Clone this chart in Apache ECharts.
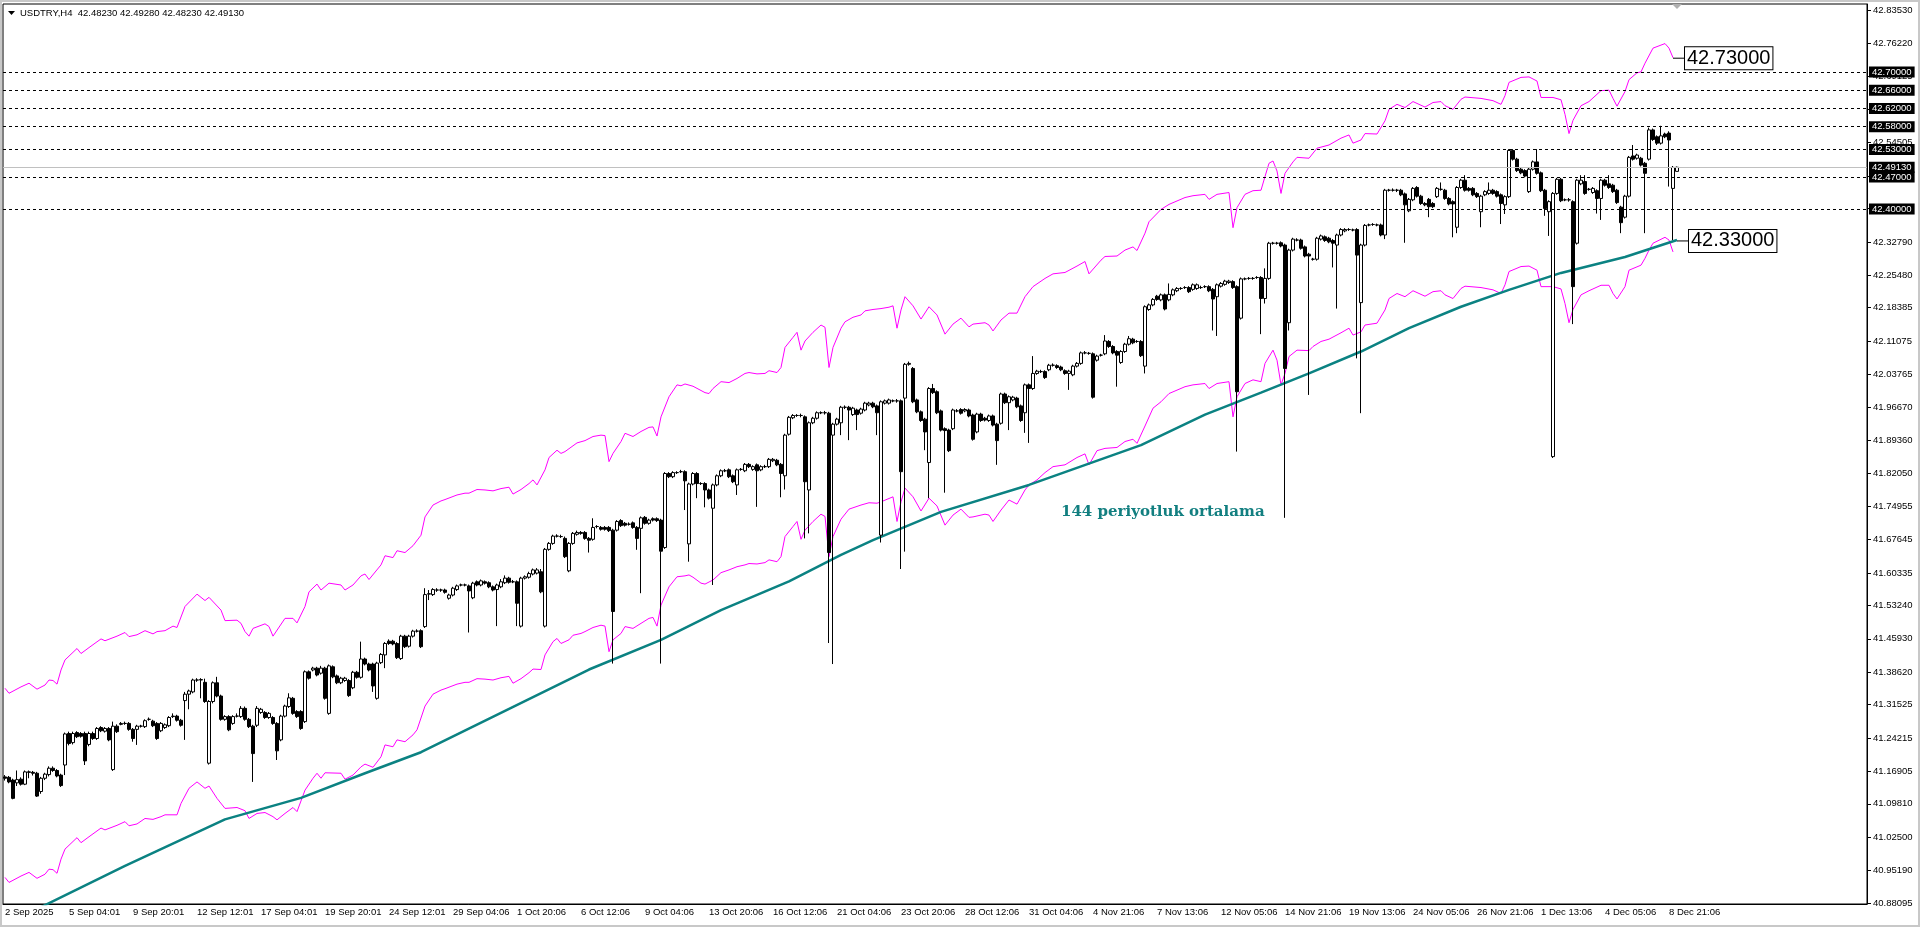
<!DOCTYPE html>
<html>
<head>
<meta charset="utf-8">
<title>USDTRY H4</title>
<script src="https://cdn.jsdelivr.net/npm/echarts@6/dist/echarts.min.js"></script>
<style>
  html, body { margin: 0; padding: 0; background: #fff; }
  #chart { width: 1920px; height: 927px; }
</style>
</head>
<body>
<div id="chart"></div>
<script>
// USDTRY H4 bars: [open, close, low, high]
const ohlcA = [
  [41.157,41.154,41.149,41.161],[41.156,41.146,41.143,41.159],[41.150,41.110,41.108,41.153],[41.144,41.151,41.137,41.171],
  [41.152,41.141,41.138,41.156],[41.141,41.168,41.139,41.171],[41.168,41.167,41.154,41.171],[41.167,41.165,41.160,41.170],
  [41.165,41.115,41.113,41.168],[41.125,41.154,41.120,41.157],[41.154,41.163,41.150,41.166],[41.162,41.176,41.158,41.180],
  [41.176,41.171,41.168,41.180],[41.171,41.159,41.156,41.174],[41.161,41.138,41.135,41.164],[41.183,41.251,41.161,41.254],
  [41.252,41.230,41.226,41.256],[41.232,41.252,41.228,41.256],[41.254,41.245,41.242,41.257],[41.252,41.246,41.243,41.255],
  [41.252,41.192,41.183,41.256],[41.228,41.252,41.224,41.256],[41.252,41.241,41.238,41.256],[41.241,41.263,41.238,41.266],
  [41.265,41.258,41.255,41.268],[41.257,41.263,41.254,41.266],[41.263,41.238,41.235,41.266],[41.173,41.268,41.170,41.278],
  [41.268,41.256,41.253,41.272],[41.272,41.274,41.270,41.277],[41.274,41.274,41.271,41.278],[41.274,41.261,41.258,41.277],
  [41.261,41.241,41.234,41.264],[41.261,41.268,41.227,41.271],[41.268,41.268,41.265,41.271],[41.267,41.280,41.264,41.283],
  [41.283,41.283,41.280,41.287],[41.279,41.269,41.266,41.282],[41.274,41.241,41.238,41.277],[41.258,41.274,41.255,41.277],
  [41.265,41.271,41.262,41.274],[41.269,41.287,41.266,41.290],[41.289,41.290,41.286,41.296],[41.290,41.281,41.278,41.293],
  [41.281,41.270,41.267,41.284],[41.324,41.338,41.238,41.343],[41.338,41.345,41.305,41.348],[41.343,41.369,41.340,41.372],
  [41.369,41.369,41.365,41.373],[41.369,41.370,41.329,41.373],[41.364,41.322,41.319,41.372],[41.187,41.322,41.184,41.325],
  [41.322,41.363,41.318,41.366],[41.363,41.334,41.331,41.376],[41.334,41.283,41.280,41.337],[41.283,41.289,41.280,41.292],
  [41.289,41.260,41.257,41.292],[41.274,41.289,41.271,41.292],[41.290,41.290,41.287,41.296],[41.289,41.307,41.286,41.312],
  [41.307,41.283,41.280,41.311],[41.283,41.267,41.264,41.286],[41.268,41.208,41.146,41.271],[41.270,41.307,41.266,41.312],
  [41.298,41.305,41.295,41.308],[41.298,41.287,41.284,41.301],[41.287,41.296,41.284,41.299],[41.287,41.274,41.271,41.290],
  [41.274,41.214,41.194,41.277],[41.238,41.290,41.235,41.293],[41.290,41.312,41.287,41.315],[41.311,41.330,41.308,41.340],
  [41.329,41.296,41.293,41.332],[41.300,41.289,41.286,41.303],[41.300,41.263,41.260,41.303],[41.278,41.387,41.275,41.390],
  [41.387,41.373,41.370,41.390],[41.391,41.395,41.388,41.398],[41.395,41.380,41.377,41.398],[41.384,41.395,41.381,41.400],
  [41.395,41.329,41.326,41.398],[41.296,41.400,41.293,41.403],[41.398,41.376,41.373,41.401],[41.378,41.363,41.360,41.381],
  [41.363,41.373,41.360,41.376],[41.368,41.373,41.365,41.376],[41.368,41.335,41.332,41.371],[41.352,41.386,41.349,41.389],
  [41.386,41.375,41.372,41.389],[41.375,41.415,41.372,41.453],[41.415,41.404,41.401,41.418],[41.404,41.391,41.388,41.407],
  [41.404,41.356,41.343,41.407],[41.329,41.406,41.326,41.409],[41.407,41.425,41.404,41.428],[41.424,41.449,41.395,41.452],
  [41.454,41.449,41.446,41.458],[41.454,41.448,41.445,41.457],[41.449,41.418,41.415,41.452],[41.416,41.465,41.413,41.468],
  [41.465,41.442,41.439,41.468],[41.443,41.465,41.440,41.468],[41.465,41.476,41.462,41.479],[41.476,41.476,41.473,41.480]
];
const ohlcB = [
  [41.477,41.442,41.439,41.480],[41.486,41.556,41.483,41.570],[41.557,41.558,41.544,41.566],[41.556,41.567,41.553,41.570],
  [41.566,41.566,41.562,41.570],[41.566,41.566,41.562,41.569],[41.566,41.561,41.558,41.569],[41.548,41.555,41.545,41.558],
  [41.555,41.570,41.552,41.573],[41.567,41.575,41.564,41.578],[41.577,41.577,41.574,41.580],[41.577,41.577,41.574,41.580],
  [41.575,41.564,41.473,41.578],[41.549,41.581,41.546,41.584],[41.584,41.577,41.574,41.587],[41.577,41.586,41.574,41.589],
  [41.584,41.581,41.578,41.587],[41.582,41.573,41.570,41.585],[41.573,41.566,41.563,41.576],[41.567,41.577,41.487,41.580],
  [41.573,41.584,41.570,41.590],[41.582,41.592,41.579,41.598],[41.592,41.583,41.580,41.595],[41.584,41.584,41.581,41.588],
  [41.584,41.537,41.487,41.587],[41.487,41.592,41.484,41.595],[41.592,41.595,41.589,41.598],[41.594,41.602,41.591,41.606],
  [41.601,41.610,41.598,41.613],[41.603,41.610,41.600,41.614],[41.606,41.562,41.559,41.612],[41.487,41.655,41.484,41.658],
  [41.655,41.668,41.652,41.671],[41.668,41.684,41.665,41.687],[41.684,41.684,41.681,41.688],[41.683,41.683,41.680,41.687],
  [41.679,41.639,41.636,41.683],[41.608,41.668,41.605,41.671],[41.668,41.690,41.665,41.693],[41.688,41.692,41.685,41.696],
  [41.692,41.690,41.687,41.695],[41.692,41.679,41.676,41.695],[41.679,41.675,41.648,41.682],[41.677,41.703,41.674,41.723],
  [41.705,41.705,41.701,41.708],[41.703,41.699,41.696,41.706],[41.703,41.699,41.696,41.706],[41.703,41.696,41.693,41.706],
  [41.697,41.519,41.405,41.700],[41.697,41.716,41.694,41.719],[41.718,41.707,41.704,41.721],[41.712,41.708,41.705,41.715],
  [41.710,41.710,41.707,41.714],[41.713,41.703,41.700,41.716],[41.703,41.679,41.654,41.706],[41.701,41.724,41.559,41.727],
  [41.725,41.712,41.709,41.728],[41.712,41.719,41.709,41.722],[41.722,41.719,41.716,41.725],[41.722,41.718,41.715,41.725],
  [41.719,41.651,41.405,41.722],[41.659,41.821,41.656,41.824],[41.821,41.814,41.811,41.824],[41.814,41.823,41.811,41.826],
  [41.823,41.823,41.820,41.826],[41.825,41.825,41.822,41.829],[41.825,41.805,41.741,41.828],[41.667,41.798,41.628,41.801],
  [41.798,41.821,41.795,41.824],[41.821,41.799,41.767,41.824],[41.799,41.799,41.796,41.802],[41.799,41.785,41.747,41.802],
  [41.785,41.767,41.764,41.788],[41.745,41.796,41.577,41.799],[41.796,41.816,41.793,41.819],[41.816,41.827,41.813,41.830],
  [41.827,41.827,41.824,41.831],[41.829,41.814,41.811,41.832],[41.816,41.803,41.800,41.819],[41.796,41.829,41.774,41.832],
  [41.830,41.830,41.827,41.833],[41.827,41.841,41.824,41.844],[41.841,41.836,41.833,41.844],[41.830,41.836,41.827,41.839],
  [41.840,41.827,41.748,41.843],[41.829,41.836,41.826,41.839],[41.836,41.836,41.833,41.840],[41.836,41.852,41.833,41.855],
  [41.849,41.852,41.846,41.855],[41.850,41.840,41.837,41.853],[41.841,41.821,41.769,41.844],[41.816,41.905,41.786,41.908],
  [41.907,41.944,41.904,41.947],[41.943,41.948,41.940,41.951],[41.948,41.948,41.945,41.951],[41.948,41.948,41.944,41.952],
  [41.945,41.803,41.679,41.948],[41.785,41.932,41.690,41.935],[41.932,41.942,41.929,41.945],[41.942,41.954,41.939,41.957],
  [41.954,41.954,41.951,41.957],[41.954,41.954,41.950,41.958],[41.953,41.648,41.450,41.956],[41.905,41.929,41.404,41.932],
  [41.929,41.940,41.926,41.943]
];
const ohlcC = [
  [41.932,41.966,41.905,41.969],[41.966,41.966,41.962,41.970],[41.966,41.960,41.894,41.969],[41.950,41.964,41.947,41.967],
  [41.960,41.950,41.916,41.963],[41.953,41.962,41.950,41.965],[41.960,41.975,41.957,41.978],[41.971,41.975,41.968,41.978],
  [41.975,41.967,41.964,41.978],[41.969,41.954,41.905,41.972],[41.686,41.978,41.670,41.981],[41.975,41.980,41.972,41.983],
  [41.975,41.982,41.972,41.985],[41.980,41.980,41.977,41.983],[41.980,41.980,41.976,41.984],[41.980,41.825,41.612,41.983],
  [41.986,42.060,41.650,42.063],[42.060,42.062,42.057,42.066],[42.051,41.978,41.975,42.054],[41.982,41.956,41.953,41.985],
  [41.956,41.937,41.934,41.959],[41.940,41.912,41.872,41.943],[41.845,42.007,41.767,42.010],[42.007,41.998,41.995,42.017],
  [42.000,41.954,41.951,42.003],[41.958,41.916,41.913,41.961],[41.919,41.915,41.779,41.922],[41.916,41.871,41.868,41.919],
  [41.919,41.960,41.916,41.963],[41.958,41.958,41.955,41.962],[41.961,41.953,41.950,41.964],[41.958,41.961,41.955,41.964],
  [41.960,41.947,41.944,41.963],[41.949,41.896,41.893,41.952],[41.912,41.951,41.909,41.954],[41.951,41.937,41.934,41.954],
  [41.942,41.938,41.935,41.945],[41.937,41.947,41.934,41.950],[41.947,41.927,41.924,41.950],[41.929,41.893,41.840,41.932],
  [41.931,41.995,41.928,41.998],[41.995,41.976,41.973,41.998],[41.976,41.989,41.916,41.992],[41.982,41.988,41.979,41.991],
  [41.986,41.967,41.964,41.989],[41.969,41.937,41.934,41.972],[41.954,42.015,41.910,42.018],[42.015,42.007,41.888,42.018],
  [42.007,42.040,42.004,42.078],[42.040,42.045,42.037,42.048],[42.044,42.044,42.041,42.048],[42.044,42.031,42.028,42.047],
  [42.048,42.058,42.045,42.061],[42.058,42.058,42.055,42.062],[42.057,42.053,42.050,42.060],[42.054,42.048,42.045,42.057],
  [42.046,42.040,42.037,42.049],[42.040,42.045,42.004,42.048],[42.037,42.056,42.034,42.059],[42.056,42.062,42.053,42.065],
  [42.062,42.085,42.059,42.088],[42.085,42.085,42.082,42.089],[42.084,42.084,42.081,42.087],[42.083,41.988,41.985,42.086],
  [42.069,42.078,42.066,42.081],[42.080,42.080,42.077,42.083],[42.083,42.111,42.080,42.124],[42.110,42.099,42.096,42.113],
  [42.099,42.085,42.082,42.102],[42.088,42.080,42.011,42.091],[42.064,42.088,42.061,42.091],[42.088,42.104,42.085,42.107],
  [42.104,42.116,42.101,42.122],[42.115,42.107,42.104,42.118],[42.110,42.110,42.107,42.113],[42.110,42.079,42.076,42.113],
  [42.056,42.186,42.040,42.189],[42.180,42.190,42.177,42.193],[42.190,42.202,42.187,42.205],[42.209,42.202,42.199,42.212],
  [42.201,42.212,42.198,42.215],[42.212,42.181,42.178,42.215],[42.201,42.213,42.198,42.237],[42.212,42.223,42.209,42.226],
  [42.221,42.226,42.218,42.229],[42.226,42.226,42.223,42.229],[42.228,42.228,42.225,42.231],[42.228,42.219,42.216,42.231],
  [42.224,42.234,42.221,42.237],[42.226,42.234,42.223,42.237],[42.228,42.228,42.225,42.232],[42.230,42.230,42.227,42.233],
  [42.230,42.221,42.218,42.233],[42.224,42.203,42.134,42.227],[42.208,42.234,42.122,42.237],[42.231,42.237,42.228,42.240],
  [42.235,42.242,42.232,42.245],[42.239,42.242,42.236,42.245],[42.241,42.228,42.225,42.244],[42.230,42.000,41.869,42.233],
  [42.161,42.247,42.158,42.250],[42.247,42.247,42.244,42.250],[42.248,42.248,42.245,42.251],[42.248,42.248,42.245,42.251],
  [42.250,42.250,42.247,42.253]
];
const ohlcD = [
  [42.250,42.204,42.126,42.253],[42.204,42.248,42.193,42.270],[42.248,42.325,42.245,42.328],[42.325,42.325,42.322,42.328],
  [42.325,42.325,42.322,42.328],[42.326,42.319,42.316,42.329],[42.321,42.051,41.724,42.324],[42.151,42.310,42.134,42.313],
  [42.310,42.334,42.307,42.337],[42.332,42.332,42.329,42.336],[42.332,42.314,42.311,42.335],[42.317,42.297,42.294,42.320],
  [42.301,42.297,41.993,42.304],[42.290,42.290,42.287,42.293],[42.290,42.336,42.287,42.339],[42.334,42.341,42.331,42.344],
  [42.339,42.331,42.328,42.342],[42.336,42.328,42.325,42.339],[42.331,42.325,42.272,42.334],[42.321,42.343,42.182,42.346],
  [42.343,42.355,42.340,42.358],[42.352,42.355,42.349,42.358],[42.355,42.355,42.352,42.358],[42.354,42.354,42.351,42.357],
  [42.355,42.299,42.073,42.358],[42.195,42.321,41.953,42.324],[42.321,42.364,42.318,42.367],[42.365,42.365,42.362,42.368],
  [42.366,42.366,42.363,42.369],[42.365,42.365,42.362,42.368],[42.365,42.343,42.340,42.368],[42.343,42.441,42.334,42.444],
  [42.441,42.441,42.438,42.444],[42.441,42.441,42.438,42.445],[42.441,42.441,42.437,42.444],[42.441,42.431,42.428,42.444],
  [42.433,42.409,42.326,42.436],[42.396,42.421,42.393,42.424],[42.420,42.445,42.417,42.448],[42.447,42.428,42.425,42.450],
  [42.428,42.412,42.409,42.431],[42.412,42.409,42.406,42.415],[42.421,42.405,42.382,42.424],[42.412,42.405,42.402,42.415],
  [42.427,42.445,42.424,42.448],[42.443,42.443,42.440,42.458],[42.441,42.423,42.420,42.444],[42.423,42.411,42.408,42.426],
  [42.416,42.411,42.338,42.419],[42.360,42.447,42.347,42.450],[42.447,42.463,42.444,42.466],[42.463,42.441,42.438,42.474],
  [42.445,42.441,42.438,42.448],[42.445,42.431,42.428,42.448],[42.434,42.427,42.424,42.437],[42.394,42.428,42.360,42.431],
  [42.431,42.438,42.428,42.441],[42.434,42.441,42.431,42.458],[42.441,42.434,42.431,42.444],[42.438,42.428,42.425,42.441],
  [42.431,42.412,42.367,42.434],[42.409,42.427,42.389,42.430],[42.427,42.528,42.424,42.531],[42.528,42.509,42.506,42.531],
  [42.509,42.484,42.481,42.512],[42.487,42.479,42.476,42.490],[42.484,42.472,42.469,42.487],[42.438,42.487,42.435,42.490],
  [42.487,42.503,42.484,42.506],[42.503,42.478,42.475,42.531],[42.479,42.440,42.437,42.482],[42.441,42.401,42.385,42.444],
  [42.394,42.416,42.341,42.419],[41.858,42.434,41.855,42.437],[42.434,42.465,42.431,42.468],[42.465,42.418,42.415,42.468],
  [42.420,42.420,42.417,42.423],[42.420,42.420,42.416,42.424],[42.416,42.230,42.148,42.419],[42.325,42.463,42.322,42.466],
  [42.455,42.463,42.452,42.474],[42.460,42.434,42.431,42.474],[42.443,42.443,42.440,42.446],[42.436,42.445,42.433,42.448],
  [42.440,42.423,42.390,42.443],[42.423,42.463,42.376,42.466],[42.463,42.452,42.449,42.466],[42.455,42.447,42.444,42.474],
  [42.452,42.438,42.435,42.455],[42.441,42.414,42.411,42.444],[42.404,42.370,42.347,42.407],[42.382,42.428,42.379,42.431],
  [42.428,42.513,42.425,42.516],[42.516,42.509,42.506,42.540],[42.511,42.518,42.508,42.521],[42.511,42.496,42.493,42.514],
  [42.500,42.478,42.347,42.503],[42.509,42.573,42.506,42.578],[42.573,42.552,42.549,42.576],[42.558,42.544,42.540,42.561],
  [42.544,42.560,42.541,42.582],[42.564,42.558,42.555,42.567],[42.566,42.551,42.449,42.570],[42.445,42.491,42.332,42.494],
  [42.4823,42.4913,42.4823,42.4928]
];
const ohlc = ohlcA.concat(ohlcB, ohlcC, ohlcD);

// 144-period moving average, [bar index, price]
const ma144 = [
  [9,40.872],[30,40.962],[55,41.064],[74,41.111],[90,41.165],[104,41.211],[146,41.392],[164,41.457],
  [179,41.522],[196,41.585],[209,41.643],[217,41.675],[234,41.737],[256,41.796],[284,41.883],[300,41.950],
  [314,41.998],[326,42.040],[339,42.088],[351,42.139],[364,42.186],[376,42.223],[389,42.260],[405,42.295],[418,42.332]
];

// envelope bands (magenta)
const upperBand = [
  [0,41.351],[1,41.340],[4,41.354],[6,41.362],[8,41.349],[10,41.358],[11,41.369],[12,41.368],[13,41.360],[14,41.391],
  [15,41.413],[18,41.438],[19,41.427],[21,41.440],[24,41.459],[25,41.455],[28,41.465],[30,41.473],[31,41.464],[33,41.468],
  [35,41.477],[37,41.470],[38,41.475],[40,41.477],[42,41.487],[43,41.484],[45,41.530],[48,41.557],[50,41.543],[51,41.550],
  [54,41.522],[55,41.499],[58,41.500],[59,41.493],[60,41.475],[61,41.465],[62,41.482],[65,41.492],[66,41.486],[67,41.465],
  [70,41.504],[72,41.504],[73,41.494],[75,41.530],[76,41.562],[78,41.579],[79,41.566],[81,41.581],[84,41.577],[85,41.566],
  [87,41.577],[89,41.597],[90,41.601],[91,41.589],[94,41.621],[95,41.641],[97,41.637],[98,41.652],[100,41.648],[102,41.663],
  [104,41.686],[105,41.726],[107,41.752],[109,41.761],[110,41.764],[113,41.774],[115,41.778],[116,41.778],[118,41.786],[120,41.785],
  [122,41.783],[124,41.788],[126,41.791],[127,41.776],[129,41.786],[131,41.799],[132,41.807],[133,41.796],[135,41.829],[136,41.856],
  [138,41.872],[139,41.865],[140,41.869],[143,41.888],[145,41.893],[147,41.902],[149,41.905],[150,41.904],[151,41.847],[152,41.865],
  [154,41.891],[155,41.909],[157,41.902],[159,41.913],[161,41.922],[162,41.923],[163,41.903],[164,41.945],[166,41.989],[168,42.015],
  [169,42.013],[170,42.017],[172,42.012],[175,41.998],[176,41.996],[177,42.007],[179,42.022],[181,42.020],[183,42.029],[185,42.040],
  [186,42.042],[188,42.039],[190,42.040],[191,42.046],[193,42.042],[194,42.053],[195,42.097],[197,42.119],[198,42.130],[199,42.091],
  [200,42.111],[202,42.130],[204,42.146],[205,42.141],[206,42.053],[207,42.097],[209,42.139],[210,42.153],[212,42.163],[214,42.168],
  [215,42.177],[217,42.180],[219,42.182],[221,42.185],[222,42.188],[223,42.139],[224,42.179],[225,42.208],[227,42.188],[229,42.159],
  [231,42.186],[233,42.168],[235,42.126],[237,42.148],[239,42.161],[241,42.142],[242,42.148],[245,42.151],[246,42.146],[247,42.133],
  [249,42.157],[251,42.172],[253,42.172],[255,42.208],[257,42.230],[260,42.248],[262,42.258],[265,42.261],[268,42.275],[270,42.285],
  [271,42.258],[274,42.288],[275,42.296],[278,42.297],[280,42.310],[282,42.317],[283,42.309],[285,42.347],[286,42.372],[289,42.399],
  [291,42.410],[295,42.425],[297,42.429],[300,42.432],[301,42.421],[303,42.432],[306,42.436],[307,42.359],[308,42.403],[310,42.432],
  [312,42.440],[314,42.441],[315,42.471],[316,42.500],[317,42.505],[318,42.483],[319,42.434],[320,42.478],[322,42.503],[323,42.513],
  [326,42.511],[328,42.533],[331,42.540],[334,42.555],[336,42.562],[337,42.544],[339,42.551],[340,42.565],[343,42.564],[345,42.593],
  [346,42.618],[348,42.629],[350,42.622],[352,42.635],[355,42.623],[357,42.633],[359,42.635],[360,42.626],[362,42.618],[364,42.640],
  [365,42.645],[369,42.642],[372,42.637],[374,42.629],[375,42.648],[376,42.677],[379,42.688],[381,42.689],[383,42.680],[384,42.644],
  [387,42.644],[389,42.639],[390,42.607],[391,42.565],[392,42.594],[394,42.626],[396,42.635],[399,42.659],[401,42.660],[402,42.642],
  [403,42.625],[405,42.657],[406,42.683],[408,42.698],[409,42.700],[410,42.719],[412,42.752],[415,42.762],[416,42.752],[417,42.731]
];
const lowerBand = [
  [0,40.937],[1,40.926],[4,40.940],[6,40.948],[8,40.935],[10,40.944],[11,40.955],[12,40.954],[13,40.946],[14,40.977],
  [15,40.999],[18,41.024],[19,41.013],[21,41.026],[24,41.045],[25,41.041],[28,41.051],[30,41.059],[31,41.050],[33,41.054],
  [35,41.066],[37,41.064],[39,41.070],[40,41.074],[43,41.074],[44,41.099],[46,41.132],[48,41.146],[50,41.132],[51,41.137],
  [53,41.110],[55,41.088],[58,41.090],[60,41.083],[61,41.066],[63,41.077],[65,41.079],[67,41.070],[68,41.063],[70,41.077],
  [72,41.090],[73,41.081],[75,41.128],[77,41.154],[78,41.165],[79,41.154],[80,41.166],[84,41.165],[85,41.152],[87,41.161],
  [89,41.179],[90,41.185],[92,41.178],[94,41.201],[95,41.227],[97,41.223],[98,41.238],[100,41.234],[102,41.249],[103,41.260],
  [105,41.312],[107,41.338],[109,41.347],[110,41.350],[113,41.360],[115,41.364],[116,41.364],[118,41.372],[120,41.371],[122,41.369],
  [124,41.374],[126,41.377],[127,41.362],[129,41.372],[131,41.385],[132,41.393],[134,41.392],[135,41.424],[137,41.453],[138,41.460],
  [139,41.449],[141,41.457],[142,41.467],[144,41.471],[145,41.475],[147,41.484],[149,41.489],[150,41.487],[151,41.431],[152,41.457],
  [154,41.471],[155,41.486],[157,41.482],[159,41.493],[161,41.504],[162,41.506],[163,41.487],[164,41.533],[166,41.573],[168,41.595],
  [170,41.597],[171,41.599],[172,41.594],[174,41.581],[175,41.579],[177,41.588],[179,41.604],[181,41.610],[183,41.617],[185,41.621],
  [186,41.624],[188,41.623],[190,41.626],[191,41.632],[193,41.628],[194,41.639],[195,41.683],[197,41.705],[198,41.716],[199,41.677],
  [200,41.697],[202,41.716],[204,41.732],[205,41.727],[206,41.639],[207,41.683],[209,41.721],[211,41.743],[214,41.752],[216,41.757],
  [218,41.756],[219,41.759],[222,41.770],[223,41.716],[224,41.759],[225,41.789],[227,41.770],[229,41.739],[231,41.767],[233,41.750],
  [235,41.708],[237,41.730],[239,41.743],[241,41.725],[242,41.726],[245,41.732],[246,41.730],[247,41.716],[249,41.741],[251,41.763],
  [253,41.754],[255,41.785],[256,41.796],[258,41.807],[260,41.823],[262,41.836],[265,41.840],[268,41.856],[270,41.864],[271,41.840],
  [273,41.871],[275,41.876],[278,41.878],[280,41.891],[282,41.896],[283,41.887],[285,41.925],[287,41.964],[289,41.978],[291,41.996],
  [295,42.011],[297,42.015],[300,42.018],[301,42.007],[303,42.018],[306,42.022],[307,41.945],[308,41.989],[310,42.018],[312,42.026],
  [314,42.022],[315,42.062],[317,42.091],[318,42.069],[319,42.015],[320,42.040],[321,42.077],[323,42.091],[326,42.090],[327,42.099],
  [329,42.110],[331,42.115],[334,42.129],[336,42.139],[337,42.124],[339,42.131],[340,42.146],[343,42.150],[345,42.179],[346,42.204],
  [348,42.215],[350,42.208],[352,42.221],[355,42.209],[357,42.219],[359,42.221],[360,42.212],[362,42.204],[364,42.226],[365,42.231],
  [369,42.228],[372,42.223],[374,42.215],[375,42.234],[376,42.263],[379,42.274],[381,42.275],[383,42.266],[384,42.230],[387,42.230],
  [389,42.225],[390,42.193],[391,42.151],[392,42.180],[394,42.212],[396,42.221],[399,42.233],[401,42.233],[402,42.215],[403,42.203],
  [405,42.230],[406,42.266],[409,42.277],[410,42.292],[411,42.310],[412,42.325],[415,42.338],[416,42.332],[417,42.306]
];

// horizontal levels
const dashedLevels = [42.70, 42.66, 42.62, 42.58, 42.53, 42.47, 42.40];
const bidPrice = 42.4913;
const upperCallout = 42.73;
const lowerCallout = 42.33;

// axis ticks
const xTickLabels = ['2 Sep 2025','5 Sep 04:01','9 Sep 20:01','12 Sep 12:01','17 Sep 04:01','19 Sep 20:01','24 Sep 12:01',
  '29 Sep 04:06','1 Oct 20:06','6 Oct 12:06','9 Oct 04:06','13 Oct 20:06','16 Oct 12:06','21 Oct 04:06','23 Oct 20:06',
  '28 Oct 12:06','31 Oct 04:06','4 Nov 21:06','7 Nov 13:06','12 Nov 05:06','14 Nov 21:06','19 Nov 13:06','24 Nov 05:06',
  '26 Nov 21:06','1 Dec 13:06','4 Dec 05:06','8 Dec 21:06'];
const yTickValues = [40.88095,40.95190,41.02500,41.09810,41.16905,41.24215,41.31525,41.38620,41.45930,41.53240,
  41.60335,41.67645,41.74955,41.82050,41.89360,41.96670,42.03765,42.11075,42.18385,42.25480,42.32790,42.40100,
  42.47195,42.54505,42.61815,42.69125,42.76220,42.83530];

const barSlots = 466;   // bars + chart shift space
const labelStep = 16;
const slots = Array.from({ length: barSlots }, (_, i) => String(i));
const isLabelIdx = (i) => i % labelStep === 0 && i / labelStep < xTickLabels.length;

const FONT = 'Liberation Sans, Arial, sans-serif';

const chart = echarts.init(document.getElementById('chart'));
chart.setOption({
  animation: false,
  backgroundColor: '#fff',
  title: {
    text: 'USDTRY,H4  42.48230 42.49280 42.48230 42.49130',
    left: 20, top: 8, padding: 0,
    textStyle: { fontFamily: FONT, fontSize: 9.5, fontWeight: 'normal', color: '#000' }
  },
  grid: { left: 3, right: 53, top: 4, bottom: 23, show: true, borderColor: '#000', borderWidth: 1 },
  xAxis: {
    type: 'category',
    data: slots,
    boundaryGap: true,
    axisLine: { lineStyle: { color: '#000' } },
    axisTick: { interval: isLabelIdx, alignWithLabel: true, length: 4, lineStyle: { color: '#000' } },
    axisLabel: {
      interval: isLabelIdx,
      formatter: (v) => xTickLabels[Number(v) / labelStep],
      align: 'left', margin: 3,
      fontFamily: FONT, fontSize: 9.5, color: '#000'
    },
    splitLine: { show: false }
  },
  yAxis: {
    type: 'value',
    position: 'right',
    min: 40.8788, max: 42.8486,
    axisLine: { show: true, lineStyle: { color: '#000' } },
    axisTick: { show: true, customValues: yTickValues, length: 4, lineStyle: { color: '#000' } },
    axisLabel: {
      customValues: yTickValues,
      formatter: (v) => v.toFixed(5),
      margin: 6, fontFamily: FONT, fontSize: 9.5, color: '#000'
    },
    splitLine: { show: false }
  },
  series: [
    {
      name: 'Upper', type: 'line', data: upperBand, symbol: 'none',
      lineStyle: { color: '#ff00ff', width: 1 }, z: 2
    },
    {
      name: 'Lower', type: 'line', data: lowerBand, symbol: 'none',
      lineStyle: { color: '#ff00ff', width: 1 }, z: 2
    },
    {
      name: 'MA144', type: 'line', data: ma144, symbol: 'none',
      lineStyle: { color: '#0b8282', width: 2.5 }, z: 3
    },
    {
      name: 'USDTRY', type: 'candlestick', data: ohlc, barWidth: 3, z: 4,
      itemStyle: { color: '#fff', color0: '#000', borderColor: '#000', borderColor0: '#000', borderWidth: 1 },
      markLine: {
        silent: true, symbol: 'none', precision: 5,
        label: {
          position: 'end', distance: 2,
          formatter: (p) => p.value.toFixed(5),
          backgroundColor: '#000', color: '#fff', padding: [1, 3, 0, 3],
          fontFamily: FONT, fontSize: 9.5
        },
        lineStyle: { color: '#000', type: [3, 3], width: 1 },
        data: dashedLevels.map((v) => ({ yAxis: v })).concat([
          { yAxis: bidPrice, lineStyle: { color: '#c0c0c0', type: 'solid', width: 1 } }
        ])
      }
    },
    {
      name: 'c1', type: 'line', symbol: 'none', z: 5,
      data: [[417, upperCallout], [420, upperCallout]],
      lineStyle: { color: '#000', width: 1 },
      endLabel: {
        show: true, formatter: upperCallout.toFixed(5), distance: 0,
        fontFamily: FONT, fontSize: 20, color: '#000',
        backgroundColor: '#fff', borderColor: '#000', borderWidth: 1, padding: [2, 2, 0, 2]
      }
    },
    {
      name: 'c2', type: 'line', symbol: 'none', z: 5,
      data: [[418, lowerCallout], [421, lowerCallout]],
      lineStyle: { color: '#000', width: 1 },
      endLabel: {
        show: true, formatter: lowerCallout.toFixed(5), distance: 0,
        fontFamily: FONT, fontSize: 20, color: '#000',
        backgroundColor: '#fff', borderColor: '#000', borderWidth: 1, padding: [2, 2, 0, 2]
      }
    }
  ],
  graphic: [
    { type: 'rect', shape: { x: 0.5, y: 0.5, width: 1919, height: 926 }, style: { fill: 'none', stroke: '#c8c8c8', lineWidth: 3 }, silent: true },
    { type: 'polygon', shape: { points: [[8, 11], [15, 11], [11.5, 15]] }, style: { fill: '#000' }, silent: true },
    { type: 'polygon', shape: { points: [[1672, 4], [1682, 4], [1677, 9]] }, style: { fill: '#b0b0b0' }, silent: true },
    {
      type: 'text', left: 1061, top: 505, silent: true,
      style: { text: '144 periyotluk ortalama', fill: '#127f80', font: 'bold 15px "DejaVu Serif", serif' }
    }
  ]
});
</script>
</body>
</html>
